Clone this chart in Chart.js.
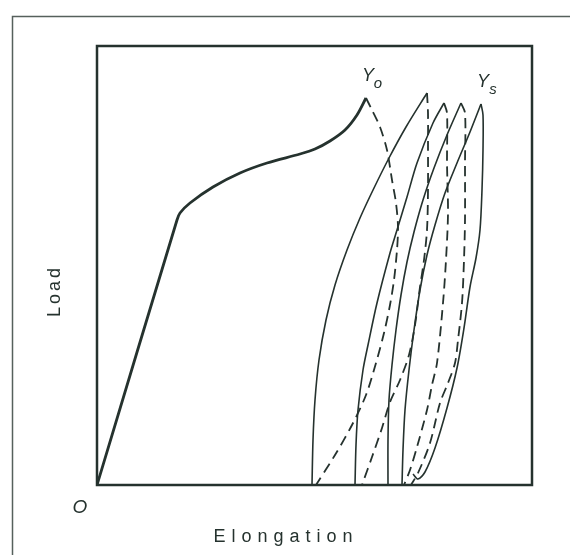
<!DOCTYPE html>
<html>
<head>
<meta charset="utf-8">
<script src="https://cdn.jsdelivr.net/npm/chart.js@4.4.1/dist/chart.umd.min.js"></script>
<style>
  html, body { margin: 0; padding: 0; background: #ffffff; }
  #wrap { position: relative; width: 570px; height: 555px; }
</style>
</head>
<body>
<div id="wrap"><canvas id="c" width="570" height="555"></canvas></div>
<script>
// Axis titles and annotations
const xTitle = "Elongation";
const yTitle = "Load";
const originLabel = "O";
const peakLabels = [
  { main: "Y", sub: "o", x: 269, y: 387 },
  { main: "Y", sub: "s", x: 384, y: 381 }
];

// Axis ranges (arbitrary units, no ticks shown)
const xRange = [0, 435];
const yRange = [0, 439];

// Curves: [elongation, load] in arbitrary units
const mainLoad = [[0,0],[80,265],[83,272],[93,282],[116,298],[143,312],[170,322],[203,331],[218,336],[233,344],[248,355],[260,370],[269,387]];
const unload0 = [[269,387],[275,375],[283,358],[290,335],[295,305],[299,282],[301,258],[300,235],[297,205],[293,180],[287,152],[279,122],[269,90],[255,60],[238,30],[219,0]];
const load1 = [[215,0],[216,45],[218,85],[222,125],[229,165],[238,200],[250,235],[263,267],[277,297],[292,327],[309,358],[330,392]];
const unload1 = [[330,392],[331,372],[331,338],[331,295],[330,255],[327,225],[323,198],[318,160],[312,130],[303,105],[293,83],[285,57],[275,28],[265,0]];
const load2 = [[258,0],[259,40],[261,75],[266,115],[271,140],[280,182],[293,232],[300,255],[310,288],[320,322],[336,362],[347,382]];
const unload2 = [[347,382],[350,372],[350,322],[351,272],[349,225],[346,182],[340,122],[335,100],[330,75],[320,38],[313,15],[307,0]];
const load3 = [[291,0],[291,45],[292,85],[295,120],[299,155],[304,190],[310,223],[317,253],[326,285],[337,317],[350,350],[364,382]];
const unload3 = [[364,382],[368,372],[368,322],[368,265],[367,225],[365,182],[361,145],[358,122],[351,102],[343,82],[333,42],[321,12],[314,0]];
const load4 = [[305,0],[306,35],[308,75],[312,115],[317,155],[323,195],[330,230],[338,260],[348,292],[360,322],[373,353],[384,381]];
const unloadFinal = [[384,381],[386,370],[386,335],[385,295],[383,255],[379,227],[373,198],[367,157],[360,117],[350,77],[338,37],[328,13],[321,6],[316,11]];

const INK = "#25322e";
const toPts = arr => arr.map(p => ({ x: p[0], y: p[1] }));

function ds(arr, width, dashed) {
  return {
    data: toPts(arr),
    showLine: true,
    borderColor: INK,
    borderWidth: width,
    borderDash: dashed ? [10, 6] : [],
    pointRadius: 0,
    tension: 0.3,
    fill: false,
    borderCapStyle: "butt",
    borderJoinStyle: "round"
  };
}

const decor = {
  id: "decor",
  beforeDraw(chart) {
    const ctx = chart.ctx;
    ctx.save();
    ctx.fillStyle = "#ffffff";
    ctx.fillRect(0, 0, chart.width, chart.height);
    // outer frame (left and top edges visible)
    ctx.strokeStyle = "#56605c";
    ctx.lineWidth = 1.5;
    ctx.beginPath();
    ctx.moveTo(12.5, 555);
    ctx.lineTo(12.5, 16.5);
    ctx.lineTo(570, 16.5);
    ctx.stroke();
    ctx.restore();
  },
  afterDraw(chart) {
    const ctx = chart.ctx;
    const a = chart.chartArea;
    const xs = chart.scales.x, ys = chart.scales.y;
    ctx.save();
    ctx.strokeStyle = INK;
    ctx.lineWidth = 2.5;
    ctx.strokeRect(a.left, a.top, a.right - a.left, a.bottom - a.top);

    ctx.fillStyle = INK;
    ctx.textAlign = "center";
    ctx.textBaseline = "middle";
    // x title
    ctx.font = "18px 'Liberation Sans', Arial, sans-serif";
    ctx.letterSpacing = "6px";
    ctx.fillText(xTitle, 286, 537);
    // y title
    ctx.save();
    ctx.translate(55, 291);
    ctx.rotate(-Math.PI / 2);
    ctx.letterSpacing = "3px";
    ctx.fillText(yTitle, 0, 0);
    ctx.restore();
    ctx.letterSpacing = "0px";
    // origin label
    ctx.font = "italic 19px 'Liberation Sans', Arial, sans-serif";
    ctx.fillText(originLabel, 80, 508);
    // peak labels
    peakLabels.forEach(p => {
      const px = xs.getPixelForValue(p.x);
      const py = ys.getPixelForValue(p.y);
      ctx.font = "italic 18px 'Liberation Sans', Arial, sans-serif";
      ctx.fillText(p.main, px + 2, py - 22);
      ctx.font = "italic 15px 'Liberation Sans', Arial, sans-serif";
      ctx.fillText(p.sub, px + 12, py - 14);
    });
    ctx.restore();
  }
};

new Chart(document.getElementById("c"), {
  type: "scatter",
  data: {
    datasets: [
      ds(mainLoad, 2.8, false),
      ds(unload0, 1.8, true),
      ds(load1, 1.6, false),
      ds(unload1, 1.8, true),
      ds(load2, 1.6, false),
      ds(unload2, 1.8, true),
      ds(load3, 1.6, false),
      ds(unload3, 1.8, true),
      ds(load4, 1.6, false),
      ds(unloadFinal, 1.6, false)
    ]
  },
  options: {
    responsive: false,
    animation: false,
    layout: { padding: { left: 97, top: 46, right: 38, bottom: 70 } },
    plugins: { legend: { display: false }, tooltip: { enabled: false } },
    scales: {
      x: { type: "linear", min: xRange[0], max: xRange[1], display: false },
      y: { type: "linear", min: yRange[0], max: yRange[1], display: false }
    }
  },
  plugins: [decor]
});
</script>
</body>
</html>
